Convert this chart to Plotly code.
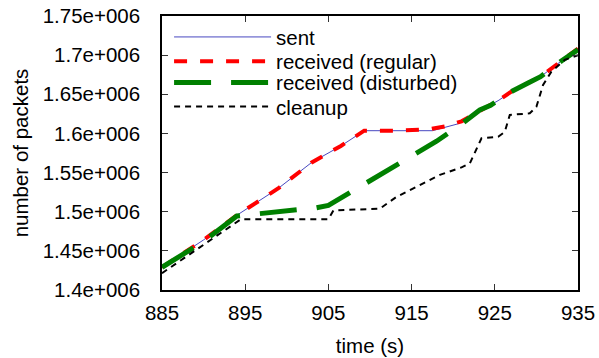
import plotly.graph_objects as go

# ---- data ----
sent_t = [885, 890, 894, 899, 903, 906.5, 909.3, 917.5, 920.5, 922.5, 924.5, 925.5, 927, 929, 930.5, 933, 935]
sent_v = [1.4290e6, 1.4640e6, 1.4955e6, 1.5300e6, 1.5630e6, 1.5840e6, 1.6035e6, 1.6035e6, 1.6120e6,
          1.6240e6, 1.6365e6, 1.6425e6, 1.6535e6, 1.6645e6, 1.6725e6, 1.6925e6, 1.7090e6]

regular_t = [885, 890, 894, 899, 903, 906.5, 909.3, 913, 917, 919, 921, 922.5, 924.5, 925.5, 927, 929, 930.5, 933, 935]
regular_v = [1.4290e6, 1.4640e6, 1.4955e6, 1.5300e6, 1.5630e6, 1.5840e6, 1.6035e6, 1.6035e6, 1.6050e6,
             1.6090e6, 1.6155e6, 1.6240e6, 1.6365e6, 1.6425e6, 1.6535e6, 1.6645e6, 1.6725e6, 1.6925e6, 1.7085e6]

disturbed_t = [885, 890, 894, 896, 900, 903.5, 905, 909, 911.5, 915.5, 918, 921.2, 923.2, 924.5, 927, 929, 930.5, 933, 935]
disturbed_v = [1.4290e6, 1.4620e6, 1.4945e6, 1.4968e6, 1.5000e6, 1.5050e6, 1.5080e6, 1.5330e6, 1.5500e6,
               1.5750e6, 1.5900e6, 1.6135e6, 1.6300e6, 1.6360e6, 1.6535e6, 1.6645e6, 1.6725e6, 1.6925e6, 1.7070e6]

cleanup_t = [885, 894.5, 905, 905.6, 911.2, 913.2, 918.4, 921, 922, 923.4, 925.4, 926.2, 926.8, 929.2,
             930, 930.8, 931.8, 933.4, 935]
cleanup_v = [1.4215e6, 1.4905e6, 1.4905e6, 1.5015e6, 1.5040e6, 1.5190e6, 1.5470e6, 1.5567e6, 1.5618e6,
             1.5938e6, 1.5958e6, 1.6020e6, 1.6236e6, 1.6257e6, 1.6340e6, 1.6619e6, 1.6789e6, 1.6940e6, 1.7000e6]

x_ticks = [885, 895, 905, 915, 925, 935]
y_ticks = [1.40e6, 1.45e6, 1.50e6, 1.55e6, 1.60e6, 1.65e6, 1.70e6, 1.75e6]
y_ticktext = ["1.4e+006", "1.45e+006", "1.5e+006", "1.55e+006", "1.6e+006", "1.65e+006", "1.7e+006", "1.75e+006"]

FONT = "Arial, Liberation Sans, sans-serif"
FS = 20.5

fig = go.Figure()
fig.add_trace(go.Scatter(x=sent_t, y=sent_v, mode="lines", name="sent", legend="legend",
                         line=dict(color="#4848c0", width=1)))
fig.add_trace(go.Scatter(x=regular_t, y=regular_v, mode="lines", name="received (regular)", legend="legend2",
                         line=dict(color="#ff0000", width=4, dash="13px,13px")))
fig.add_trace(go.Scatter(x=disturbed_t, y=disturbed_v, mode="lines", name="received (disturbed)", legend="legend3",
                         line=dict(color="#008000", width=5, dash="37px,20px")))
fig.add_trace(go.Scatter(x=cleanup_t, y=cleanup_v, mode="lines", name="cleanup", legend="legend4",
                         line=dict(color="#000000", width=2, dash="6px,5px")))

axis_common = dict(showline=True, linecolor="black", linewidth=1.5, mirror="ticks",
                   ticks="inside", ticklen=6, tickcolor="#333333", tickwidth=1,
                   showgrid=False, zeroline=False, automargin=False,
                   tickfont=dict(family=FONT, size=FS, color="black"))

fig.update_xaxes(range=[885, 935], tickvals=x_ticks, ticktext=[str(v) for v in x_ticks],
                 title=dict(text="time (s)", font=dict(family=FONT, size=FS, color="black"), standoff=15),
                 ticklabelstandoff=4, **axis_common)
fig.update_yaxes(range=[1.40e6, 1.75e6], tickvals=y_ticks, ticktext=y_ticktext,
                 title=dict(text="number of packets", font=dict(family=FONT, size=FS, color="black"), standoff=8),
                 ticklabelstandoff=16, **axis_common)

def leg(ypos):
    return dict(x=0.017, y=ypos, xanchor="left", yanchor="middle", bgcolor="rgba(0,0,0,0)",
                itemwidth=97, font=dict(family=FONT, size=FS, color="black"))

fig.update_layout(
    width=599, height=358,
    margin=dict(l=162, r=21, t=16, b=68, autoexpand=False),
    paper_bgcolor="white", plot_bgcolor="white",
    showlegend=True,
    legend=leg(0.923), legend2=leg(0.834), legend3=leg(0.757), legend4=leg(0.669),
    font=dict(family=FONT, size=FS, color="black"),
)

fig.write_html("out.html")
